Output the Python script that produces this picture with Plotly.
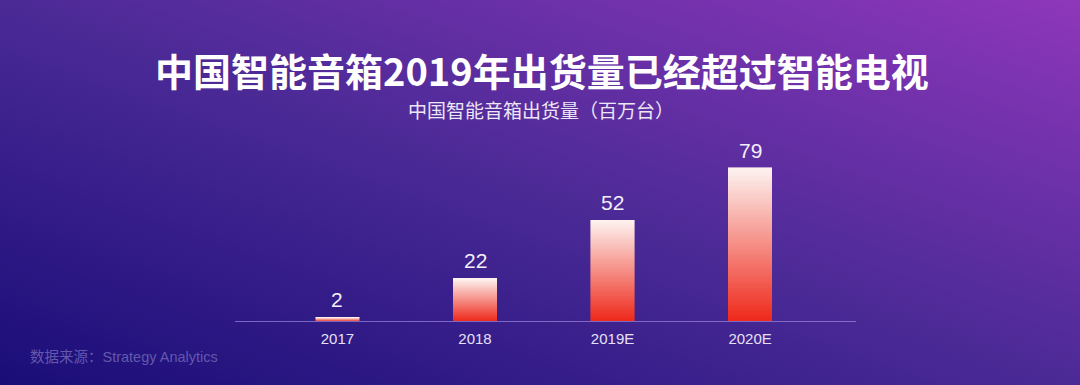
import base64
import plotly.graph_objects as go

# ---- data ----
categories = ["2017", "2018", "2019E", "2020E"]
values = [2, 22, 52, 79]
title_text = "中国智能音箱2019年出货量已经超过智能电视"
subtitle_text = "中国智能音箱出货量（百万台）"
source_text = "数据来源：Strategy Analytics"

# ---- layout constants ----
W, H = 1080, 385
ML, MR, MT, MB = 235, 224, 140, 64
PW, PH = W - ML - MR, H - MT - MB

def px_x(p):
    return (p - ML) / PW

def px_y(p):
    return (H - MB - p) / PH

BOTTOM = (238, 40, 26)
TOP = (253, 243, 240)
N = 60

def mix(t):
    r, g, b = (round(BOTTOM[i] + (TOP[i] - BOTTOM[i]) * t) for i in range(3))
    return f"rgb({r},{g},{b})"

fig = go.Figure()

# gradient bars as stacked slices of each bar
for k in range(N):
    c = mix((k + 0.5) / N)
    fig.add_trace(go.Bar(
        x=categories,
        y=[v / N for v in values],
        marker=dict(color=c, line=dict(color=c, width=0.6)),
        hoverinfo="skip",
        showlegend=False,
    ))

# background gradient
svg = (
    '<svg xmlns="http://www.w3.org/2000/svg" width="1080" height="385" '
    'viewBox="0 0 1080 385" preserveAspectRatio="none">'
    '<defs><linearGradient id="g" x1="0" y1="1" x2="1" y2="0">'
    '<stop offset="0" stop-color="#1a0d78"/>'
    '<stop offset="0.5" stop-color="#4b2a96"/>'
    '<stop offset="1" stop-color="#8e37bb"/>'
    '</linearGradient></defs>'
    '<rect width="1080" height="385" fill="url(#g)"/></svg>'
)
src = "data:image/svg+xml;base64," + base64.b64encode(svg.encode()).decode()

# value labels above bars (x given as category index on the category axis)
value_annotations = [
    dict(x=i, y=v, xref="x", yref="y", text=str(v), showarrow=False,
         xanchor="center", yanchor="bottom", yshift=4,
         font=dict(size=21, color="#f3effb", family="Liberation Sans, Noto Sans CJK SC"))
    for i, v in enumerate(values)
]

fig.update_layout(
    width=W, height=H,
    margin=dict(l=ML, r=MR, t=MT, b=MB),
    barmode="stack",
    bargap=0.684,
    paper_bgcolor="#3a2090",
    plot_bgcolor="rgba(0,0,0,0)",
    images=[dict(
        source=src, xref="paper", yref="paper",
        x=px_x(0), y=px_y(0), sizex=W / PW, sizey=H / PH,
        xanchor="left", yanchor="top", sizing="stretch", layer="below",
    )],
    xaxis=dict(
        type="category", range=[-0.745, 3.77],
        showline=True, linecolor="rgba(150,130,215,0.75)", linewidth=1,
        showgrid=False, zeroline=False, ticks="",
        ticklabelstandoff=4,
        tickfont=dict(size=15, color="#e6e0f5", family="Liberation Sans, Noto Sans CJK SC"),
        fixedrange=True,
    ),
    yaxis=dict(visible=False, range=[0, PH / 1.937], fixedrange=True),
    annotations=value_annotations + [
        dict(text=f"<b>{title_text}</b>", xref="paper", yref="paper",
             x=px_x(542), y=px_y(69), xanchor="center", yanchor="middle",
             showarrow=False,
             font=dict(size=38, color="#ffffff", family="Noto Sans CJK SC")),
        dict(text=subtitle_text, xref="paper", yref="paper",
             x=px_x(541), y=px_y(109), xanchor="center", yanchor="middle",
             showarrow=False,
             font=dict(size=19, color="#ece6f6", family="Noto Sans CJK SC")),
        dict(text=source_text, xref="paper", yref="paper",
             x=px_x(28), y=px_y(357), xanchor="left", yanchor="middle",
             showarrow=False,
             font=dict(size=14.5, color="#6258ad", family="Liberation Sans, Noto Sans CJK SC")),
    ],
)

fig.write_html(
    "out.html",
    config={"displayModeBar": False},
    post_script="document.body.style.margin='0';document.body.style.overflow='hidden';",
)
